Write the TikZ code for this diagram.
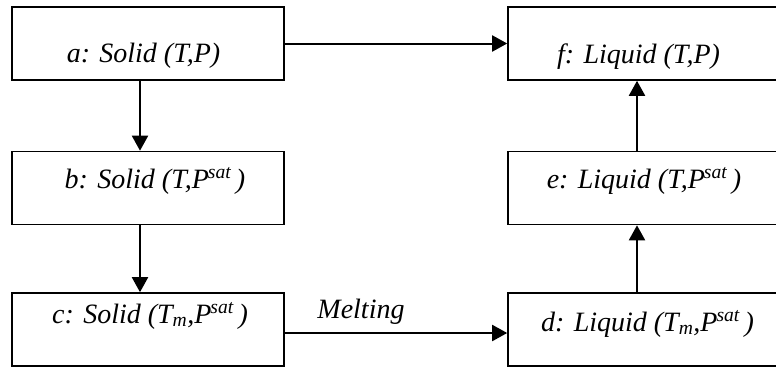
\documentclass[tikz,border=0pt]{standalone}
\usepackage{fontspec}
\setmainfont{Liberation Serif}
\usetikzlibrary{arrows.meta}
\tikzset{
  x=1pt, y=-1pt,
  box/.style={draw, line width=1.6pt, minimum width=272pt, minimum height=73pt, inner sep=0pt},
  lbl/.style={anchor=base, inner sep=0pt, font=\fontsize{28}{30}\selectfont\itshape},
  arr/.style={line width=2pt, -{Triangle[width=16pt,length=15pt]}}
}
\newcommand{\Psat}{P\textsuperscript{\kern-1pt sat}\,}
\begin{document}
\begin{tikzpicture}
\useasboundingbox (0,0) rectangle (776,367);
\clip (0,0) rectangle (776,367);
% boxes
\node[box] (a) at (148,43.5) {};
\node[box] (b) at (148,188) {};
\node[box] (c) at (148,329.5) {};
\node[box, minimum width=274pt] (f) at (645,43.5) {};
\node[box, minimum width=274pt] (e) at (645,188) {};
\node[box, minimum width=274pt] (d) at (645,329.5) {};
% texts
\node[lbl] (ta) at (143.5,62) {a: Solid (T,P)};
\node[lbl] (tb) at (155,188) {b: Solid (T,\Psat)};
\node[lbl] (tc) at (150,323) {c: Solid (T\textsubscript{m},\Psat)};
\node[lbl] (td) at (647.5,331) {d: Liquid (T\textsubscript{m},\Psat)};
\node[lbl] (te) at (644,188) {e: Liquid (T,\Psat)};
\node[lbl] (tf) at (638.5,63) {f: Liquid (T,P)};
\node[lbl] (tm) at (361,318) {Melting};
% helper coordinates
\coordinate (xl) at (140,0);
\coordinate (xr) at (637,0);
\coordinate (ym) at (0,333);
% connectors
\draw[arr] (a.east) -- (f.west);
\draw[arr] (a.south -| xl) -- (b.north -| xl);
\draw[arr] (b.south -| xl) -- (c.north -| xl);
\draw[arr] (c.east |- ym) -- (d.west |- ym);
\draw[arr] (d.north -| xr) -- (e.south -| xr);
\draw[arr] (e.north -| xr) -- (f.south -| xr);
\end{tikzpicture}
\end{document}
